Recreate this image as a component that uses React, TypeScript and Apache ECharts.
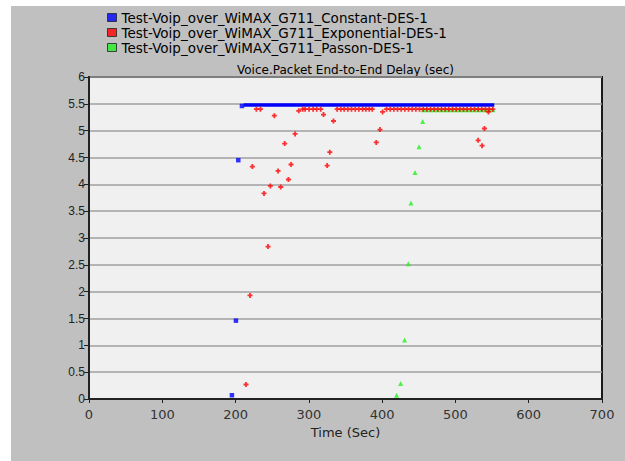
import React, { useEffect, useRef } from "react";
import * as echarts from "echarts";

const seriesNames = [
  "Test-Voip_over_WiMAX_G711_Constant-DES-1",
  "Test-Voip_over_WiMAX_G711_Exponential-DES-1",
  "Test-Voip_over_WiMAX_G711_Passon-DES-1",
];
const chartTitle = "Voice.Packet End-to-End Delay (sec)";
const xAxisName = "Time (Sec)";

// Constant: ramp points then a flat plateau
const constantPoints: [number, number][] = [
  [195, 0.07], [200.5, 1.46], [203.7, 4.45], [208.7, 5.46],
];
const constantPlateau: [number, number][] = [
  [211, 5.48], [553, 5.48],
];

// Exponential
const exponentialPoints: [number, number][] = [
  [214.2, 0.27], [219.7, 1.93], [244.3, 2.84], [238.8, 3.83], [247.5, 3.97],
  [261.6, 3.95], [258, 4.25], [272.1, 4.09], [222.9, 4.33], [275.7, 4.37],
  [325, 4.35], [267, 4.76], [281.2, 4.94], [252.9, 5.28], [328.6, 4.6],
  [333.6, 5.18], [320, 5.3], [286.2, 5.37], [228.4, 5.4], [233.9, 5.4],
  [291.6, 5.4], [294.9, 5.4], [300.3, 5.4], [305.8, 5.4], [310.7, 5.4], [316.2, 5.4],
  [338.6, 5.4], [343.6, 5.4], [348.2, 5.4], [353.2, 5.4], [358.2, 5.4], [363.3, 5.4],
  [368.2, 5.4], [373.3, 5.4], [377.8, 5.4], [382.4, 5.4], [386.5, 5.4],
  [392, 4.78], [397, 5.02], [400.6, 5.35],
  [406, 5.4], [411, 5.4], [416, 5.4], [421, 5.4], [426, 5.4], [431, 5.4],
  [436, 5.4], [441, 5.4], [446, 5.4], [451, 5.4], [456, 5.4], [461, 5.4],
  [466, 5.4], [471, 5.4], [476, 5.4], [481, 5.4], [486, 5.4], [491, 5.4],
  [496, 5.4], [501, 5.4], [506, 5.4], [511, 5.4], [516, 5.4], [521, 5.4],
  [526, 5.4], [531, 5.4], [536, 5.4], [541, 5.4], [546, 5.4], [551, 5.4],
  [531, 4.82], [536.4, 4.72], [539.6, 5.04], [545, 5.35],
];

// Passon
const passonPoints: [number, number][] = [
  [419.8, 0.07], [425.2, 0.29], [430.7, 1.1], [435.7, 2.52], [439.3, 3.65],
  [444.8, 4.22], [450.3, 4.7], [455.3, 5.17],
  [456, 5.39], [461, 5.39], [466, 5.39], [471, 5.39], [476, 5.39], [481, 5.39],
  [486, 5.39], [491, 5.39], [496, 5.39], [501, 5.39], [506, 5.39], [511, 5.39],
  [516, 5.39], [521, 5.39], [526, 5.39], [531, 5.39], [536, 5.39], [541, 5.39],
  [546, 5.39], [551, 5.39],
];

const colors = ["#0000ff", "#ff0000", "#22f022"];

export default function App() {
  const ref = useRef<HTMLDivElement>(null);
  useEffect(() => {
    const chart = echarts.init(ref.current!, null, { renderer: "svg" });
    chart.setOption({
      animation: false,
      backgroundColor: "#c0c0c0",
      title: { show: false },
      legend: {
        orient: "vertical",
        left: 96,
        top: 4,
        padding: 0,
        itemWidth: 9,
        itemHeight: 8,
        itemGap: 0,
        icon: "rect",
        data: seriesNames,
        selectedMode: false,
        textStyle: {
          fontFamily: "DejaVu Sans",
          fontSize: 13.5,
          color: "#000",
          lineHeight: 15,
        },
        itemStyle: { borderColor: "#222", borderWidth: 1 },
      },
      graphic: [
        {
          type: "text",
          x: 334.5,
          y: 64,
          style: {
            text: chartTitle,
            fontFamily: "DejaVu Sans",
            fontSize: 12,
            fill: "#000",
            textAlign: "center",
            textVerticalAlign: "middle",
          },
        },
      ],
      grid: {
        left: 78,
        top: 71,
        right: 23,
        bottom: 62,
        show: true,
        backgroundColor: "#f0f0f0",
        borderColor: "#1a1a1a",
        borderWidth: 2,
        containLabel: false,
        outerBoundsMode: "none",
      },
      xAxis: {
        type: "value",
        min: 0,
        max: 700,
        interval: 100,
        name: xAxisName,
        nameLocation: "middle",
        nameGap: 26,
        nameTextStyle: { fontFamily: "DejaVu Sans", fontSize: 13, color: "#222" },
        axisLine: { show: true, onZero: false, lineStyle: { color: "#222", width: 2 } },
        axisTick: { show: true, length: 4, lineStyle: { color: "#222" } },
        axisLabel: { fontFamily: "DejaVu Sans", fontSize: 13, color: "#333", margin: 9 },
        splitLine: { show: false },
      },
      yAxis: {
        type: "value",
        min: 0,
        max: 6,
        interval: 0.5,
        axisLine: { show: true, lineStyle: { color: "#222", width: 2 } },
        axisTick: { show: true, length: 5, lineStyle: { color: "#222" } },
        axisLabel: { fontFamily: "Liberation Sans", fontSize: 12, color: "#222", margin: 4 },
        splitLine: { show: true, lineStyle: { color: "#a0a0a0", width: 1.5 } },
      },
      series: [
        {
          name: seriesNames[0],
          type: "scatter",
          data: constantPoints,
          symbol: "rect",
          symbolSize: 4.5,
          itemStyle: { color: colors[0] },
          z: 3,
        },
        {
          name: seriesNames[0],
          type: "line",
          data: constantPlateau,
          showSymbol: false,
          lineStyle: { color: colors[0], width: 3.5 },
          itemStyle: { color: colors[0] },
          z: 3,
        },
        {
          name: seriesNames[2],
          type: "scatter",
          data: passonPoints,
          symbol: "triangle",
          symbolSize: 5,
          itemStyle: { color: colors[2] },
          z: 4,
        },
        {
          name: seriesNames[1],
          type: "scatter",
          data: exponentialPoints,
          symbol: "path://M1.6,0H3.4V1.6H5V3.4H3.4V5H1.6V3.4H0V1.6H1.6Z",
          symbolSize: 5,
          itemStyle: { color: colors[1] },
          z: 5,
        },
      ],
    });
    return () => chart.dispose();
  }, []);
  return (
    <div style={{ position: "fixed", left: 0, top: 0, width: 625, height: 461, background: "#fff" }}>
      <div ref={ref} style={{ position: "absolute", left: 11, top: 6, width: 614, height: 455 }} />
    </div>
  );
}
